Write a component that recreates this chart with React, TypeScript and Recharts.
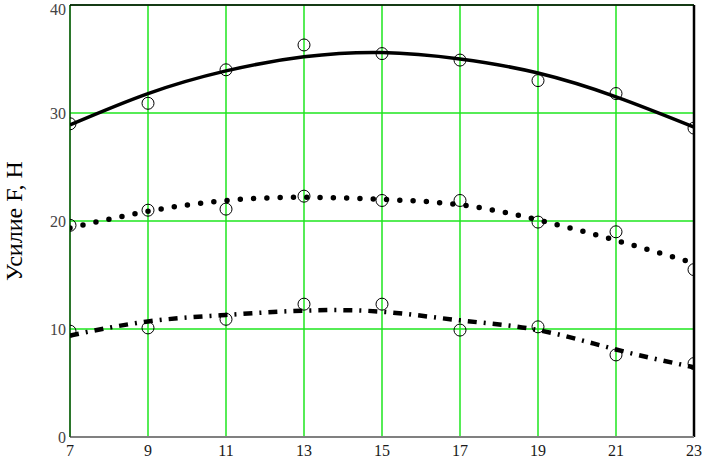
import { ComposedChart, Line, XAxis, YAxis, CartesianGrid, ReferenceLine } from 'recharts'

// x positions (odd values from 7 to 23)
const xValues = [7, 9, 11, 13, 15, 17, 19, 21, 23]
const xTicks = [7, 9, 11, 13, 15, 17, 19, 21, 23]
const yTicks = [0, 10, 20, 30, 40]

// upper series: fitted curve + measured points
const upperFit = [28.9, 31.8, 33.9, 35.2, 35.6, 35.0, 33.7, 31.5, 28.7]
const upperPts = [29.0, 30.9, 34.0, 36.3, 35.5, 34.9, 33.0, 31.8, 28.6]

// middle series
const middleFit = [19.35, 20.9, 21.9, 22.2, 22.0, 21.5, 20.1, 18.2, 16.1]
const middlePts = [19.6, 21.0, 21.1, 22.3, 21.9, 21.9, 19.9, 19.0, 15.5]

// lower series
const lowerFit = [9.4, 10.7, 11.3, 11.7, 11.6, 10.8, 9.9, 8.1, 6.45]
const lowerPts = [9.8, 10.1, 10.9, 12.3, 12.3, 9.9, 10.2, 7.6, 6.8]

const rows = xValues.map((x, i) => ({
  x,
  upperFit: upperFit[i],
  upperPts: upperPts[i],
  middleFit: middleFit[i],
  middlePts: middlePts[i],
  lowerFit: lowerFit[i],
  lowerPts: lowerPts[i],
}))

const GRID = '#1ee61e'
const SERIF = '"Liberation Serif", "Times New Roman", serif'

const openCircle = { r: 6, fill: 'none', stroke: '#000', strokeWidth: 1 }

export default function App() {
  return (
    <div style={{ position: 'absolute', left: 0, top: 0, width: 706, height: 460, background: '#fff' }}>
      <ComposedChart
        width={706}
        height={460}
        data={rows}
        margin={{ top: 5, right: 12, bottom: 0, left: 0 }}
      >
        <CartesianGrid stroke={GRID} strokeWidth={1.5} />
        <XAxis
          dataKey="x"
          type="number"
          domain={[7, 23]}
          ticks={xTicks}
          height={23}
          tickLine={false}
          tickSize={0}
          tickMargin={8}
          axisLine={{ stroke: '#808080', strokeWidth: 2 }}
          tick={{ fontFamily: SERIF, fontSize: 16, fill: '#1a1a1a' }}
          allowDataOverflow
        />
        <YAxis
          type="number"
          domain={[0, 40]}
          ticks={yTicks}
          width={70}
          tickLine={false}
          tickSize={0}
          tickMargin={4}
          axisLine={{ stroke: '#000', strokeWidth: 1 }}
          tick={{ fontFamily: SERIF, fontSize: 16, fill: '#444' }}
          label={{
            value: 'Усилие F, Н',
            angle: -90,
            position: 'insideLeft',
            offset: 13,
            style: { fontFamily: SERIF, fontSize: 24, fill: '#000', textAnchor: 'middle' },
          }}
        />
        <ReferenceLine y={40} stroke="#000" strokeWidth={1.5} />
        <ReferenceLine x={23} stroke="#000" strokeWidth={2.5} />

        <Line
          dataKey="upperFit"
          type="natural"
          stroke="#000"
          strokeWidth={3.5}
          dot={false}
          isAnimationActive={false}
        />
        <Line
          dataKey="middleFit"
          type="natural"
          stroke="#000"
          strokeWidth={5.5}
          strokeDasharray="0 13.3"
          strokeLinecap="round"
          dot={false}
          isAnimationActive={false}
        />
        <Line
          dataKey="lowerFit"
          type="natural"
          stroke="#000"
          strokeWidth={4.5}
          strokeDasharray="9 7 2 7"
          dot={false}
          isAnimationActive={false}
        />

        <Line dataKey="upperPts" stroke="none" dot={openCircle} activeDot={false} isAnimationActive={false} />
        <Line dataKey="middlePts" stroke="none" dot={openCircle} activeDot={false} isAnimationActive={false} />
        <Line dataKey="lowerPts" stroke="none" dot={openCircle} activeDot={false} isAnimationActive={false} />
      </ComposedChart>
    </div>
  )
}
